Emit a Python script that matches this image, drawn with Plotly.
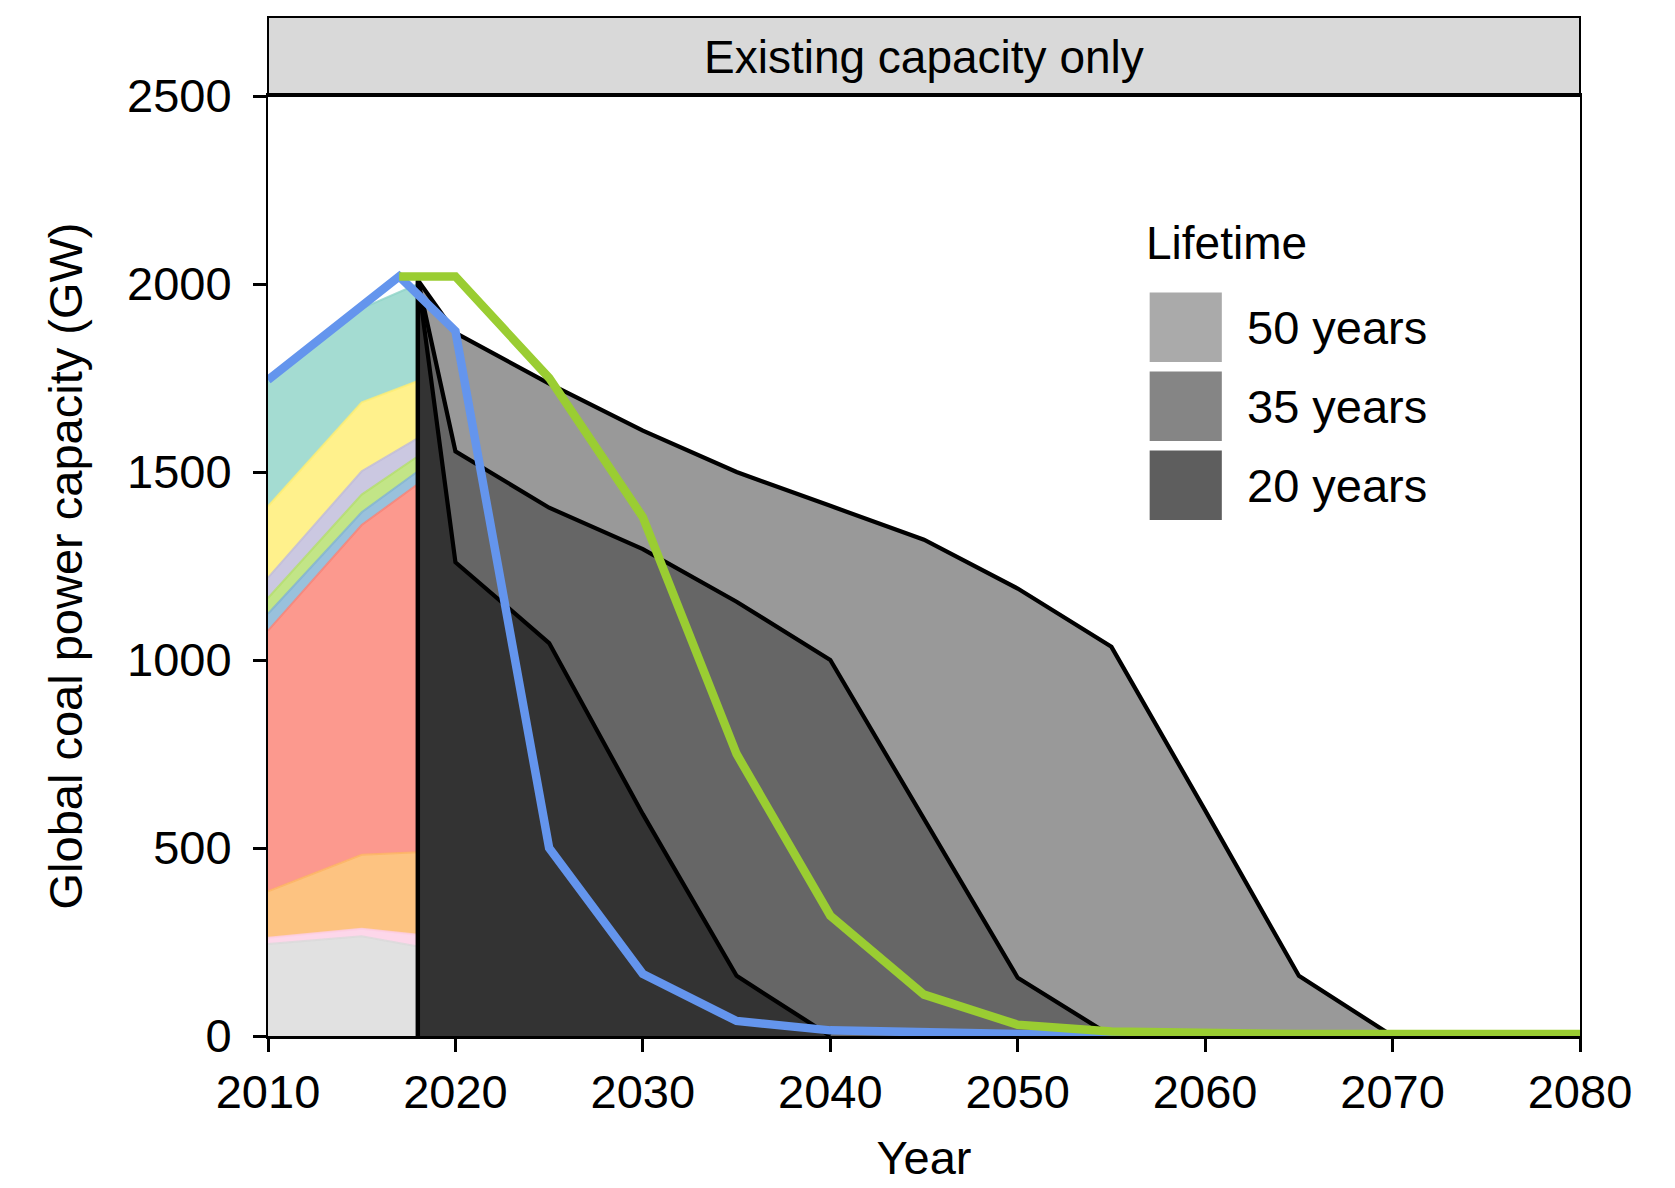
import plotly.graph_objects as go

# historical capacity, stacked layers (GW)
hist_years = [2010, 2015, 2018]
hist_gray = [245, 265, 238]
hist_pink = [16, 20, 31]
hist_orange = [124, 197, 220]
hist_red = [693, 877, 979]
hist_blue = [45, 34, 34]
hist_green = [42, 47, 40]
hist_lavender = [54, 62, 48]
hist_yellow = [190, 183, 152]
hist_teal = [330, 250, 258]

# retirement of existing capacity by lifetime (GW)
life50_years = [2018, 2018, 2020, 2025, 2030, 2035, 2040, 2045, 2050, 2055, 2060, 2065, 2070]
life50_vals = [0, 2010, 1870, 1735, 1610, 1500, 1410, 1320, 1190, 1035, 600, 160, 0]
life35_years = [2018, 2018, 2020, 2025, 2030, 2035, 2040, 2045, 2050, 2055]
life35_vals = [0, 2010, 1555, 1405, 1295, 1155, 1000, 580, 155, 0]
life20_years = [2018, 2018, 2020, 2025, 2030, 2035, 2040]
life20_vals = [0, 2010, 1260, 1045, 590, 160, 0]

# pathways
blue_years = [2010, 2015, 2017, 2020, 2025, 2030, 2035, 2040, 2045, 2050, 2055, 2060, 2065, 2070, 2075, 2080]
blue_vals = [1745, 1940, 2020, 1875, 500, 165, 40, 15, 8, 5, 4, 3, 3, 3, 3, 3]
green_years = [2017, 2020, 2025, 2030, 2035, 2040, 2045, 2050, 2055, 2060, 2065, 2070, 2075, 2080]
green_vals = [2020, 2020, 1750, 1380, 750, 320, 110, 30, 12, 7, 5, 5, 5, 5]

legend_labels = ["50 years", "35 years", "20 years"]
legend_colors = ["#aaaaaa", "#858585", "#5e5e5e"]

FONT = "Liberation Sans, Arial, sans-serif"

fig = go.Figure()

layers = [
    (hist_gray, "217,217,217"),
    (hist_pink, "252,205,229"),
    (hist_orange, "253,180,98"),
    (hist_red, "251,128,114"),
    (hist_blue, "128,177,211"),
    (hist_green, "179,222,105"),
    (hist_lavender, "190,186,218"),
    (hist_yellow, "255,237,111"),
    (hist_teal, "141,211,199"),
]
for vals, rgb in layers:
    fig.add_trace(go.Scatter(
        x=hist_years, y=vals, stackgroup="hist", mode="lines",
        line=dict(color="rgba(%s,0.8)" % rgb, width=2),
        fillcolor="rgba(%s,0.8)" % rgb, showlegend=False))

for yrs, vals, col in [(life50_years, life50_vals, "#999999"),
                       (life35_years, life35_vals, "#666666"),
                       (life20_years, life20_vals, "#333333")]:
    fig.add_trace(go.Scatter(
        x=yrs, y=vals, mode="lines", fill="tozeroy", fillcolor=col,
        line=dict(color="black", width=4.2), showlegend=False))

fig.add_trace(go.Scatter(x=blue_years, y=blue_vals, mode="lines",
                         line=dict(color="#6495ed", width=8.5), showlegend=False))
fig.add_trace(go.Scatter(x=green_years, y=green_vals, mode="lines",
                         line=dict(color="#9acd32", width=8.5), showlegend=False))

# facet strip
fig.add_shape(type="rect", xref="paper", yref="paper", x0=0, x1=1, y0=1, y1=1.084,
              fillcolor="#d9d9d9", line=dict(color="black", width=2), layer="below")
fig.add_annotation(text="Existing capacity only", xref="paper", yref="paper",
                   x=0.5, y=1.042, yanchor="middle", showarrow=False,
                   font=dict(size=46, color="black"))

# lifetime legend
fig.add_annotation(text="Lifetime", xref="paper", yref="paper", x=0.668, y=0.844,
                   xanchor="left", yanchor="middle", showarrow=False,
                   font=dict(size=46, color="black"))
sw_top = [0.791, 0.707, 0.623]
for i, (lab, col) in enumerate(zip(legend_labels, legend_colors)):
    fig.add_shape(type="rect", xref="paper", yref="paper", x0=0.672, x1=0.727,
                  y0=sw_top[i] - 0.074, y1=sw_top[i], fillcolor=col, line=dict(width=0))
    fig.add_annotation(text=lab, xref="paper", yref="paper", x=0.745, y=sw_top[i] - 0.037,
                       xanchor="left", yanchor="middle", showarrow=False,
                       font=dict(size=47, color="black"))

fig.update_layout(
    width=1675, height=1188,
    margin=dict(l=260, r=103, t=88, b=160),
    plot_bgcolor="white", paper_bgcolor="white",
    font=dict(family=FONT, size=47, color="black"),
    xaxis=dict(range=[2010, 2080], tickvals=[2010, 2020, 2030, 2040, 2050, 2060, 2070, 2080],
               showgrid=False, zeroline=False, showline=True, linecolor="black", linewidth=3,
               mirror=True, ticks="outside", ticklen=13, tickwidth=3, tickcolor="black",
               ticklabelstandoff=0, tickfont=dict(size=47),
               title=dict(text="Year", standoff=24, font=dict(size=47))),
    yaxis=dict(range=[0, 2500], tickvals=[0, 500, 1000, 1500, 2000, 2500],
               showgrid=False, zeroline=False, showline=True, linecolor="black", linewidth=2,
               mirror=True, ticks="outside", ticklen=13, tickwidth=3, tickcolor="black",
               ticklabelstandoff=12, tickfont=dict(size=47),
               title=dict(text="Global coal power capacity (GW)", standoff=30,
                          font=dict(size=47))),
)

fig.write_html("out.html")
